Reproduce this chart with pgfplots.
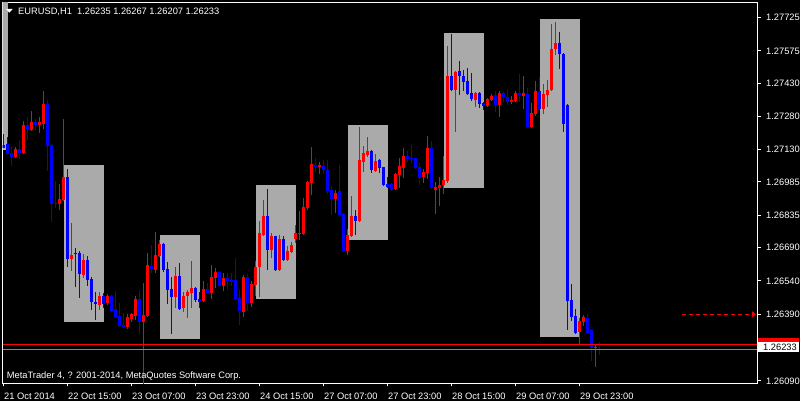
\documentclass[border=0pt]{standalone}
\usepackage{fontspec}
\setmainfont{Liberation Sans}
\usepackage{pgfplots}
\pgfplotsset{compat=1.18}
\usepackage{pgfplotstable}
\usetikzlibrary{arrows.meta}

\definecolor{bullc}{RGB}{255,0,0}
\definecolor{bearc}{RGB}{0,0,255}
\definecolor{boxc}{RGB}{170,170,170}
\definecolor{bidc}{RGB}{119,136,153}

% EURUSD H1 bars, x = bar index (21 Oct 23:00 = 0)
\pgfplotstableread{
x o h l c
3 1.27096 1.27141 1.27091 1.27132
5 1.27114 1.27258 1.27112 1.27240
7 1.27217 1.27303 1.27215 1.27253
9 1.27240 1.27276 1.27204 1.27253
10 1.27244 1.27393 1.27222 1.27334
14 1.26884 1.26974 1.26857 1.26907
15 1.26902 1.27267 1.26898 1.27006
17 1.26637 1.26799 1.26583 1.26655
20 1.26565 1.26659 1.26551 1.26632
24 1.26430 1.26488 1.26407 1.26470
26 1.26439 1.26479 1.26430 1.26470
31 1.26331 1.26389 1.26322 1.26376
32 1.26367 1.26394 1.26353 1.26389
33 1.26380 1.26470 1.26362 1.26457
35 1.26353 1.26529 1.26040 1.26385
36 1.26380 1.26664 1.26376 1.26610
38 1.26587 1.26758 1.26574 1.26655
39 1.26650 1.26722 1.26646 1.26704
43 1.26466 1.26601 1.26416 1.26560
45 1.26416 1.26488 1.26398 1.26470
46 1.26470 1.26497 1.26371 1.26488
47 1.26484 1.26628 1.26416 1.26506
50 1.26448 1.26538 1.26443 1.26502
52 1.26484 1.26610 1.26457 1.26556
53 1.26551 1.26596 1.26506 1.26578
55 1.26515 1.26574 1.26493 1.26551
60 1.26398 1.26565 1.26376 1.26556
62 1.26439 1.26538 1.26421 1.26524
63 1.26520 1.26628 1.26470 1.26601
64 1.26601 1.26808 1.26466 1.26754
65 1.26745 1.26902 1.26743 1.26830
67 1.26677 1.26754 1.26641 1.26740
69 1.26587 1.26745 1.26585 1.26727
71 1.26632 1.26695 1.26630 1.26673
72 1.26668 1.26713 1.26666 1.26700
73 1.26727 1.26790 1.26709 1.26754
74 1.26749 1.26853 1.26722 1.26754
75 1.26749 1.26911 1.26745 1.26871
76 1.26866 1.26988 1.26857 1.26983
77 1.26979 1.27141 1.26925 1.27064
79 1.27051 1.27073 1.27019 1.27060
83 1.26907 1.26947 1.26844 1.26934
86 1.26673 1.26772 1.26655 1.26745
87 1.26740 1.26920 1.26736 1.26830
89 1.26808 1.27231 1.26806 1.27082
90 1.27073 1.27145 1.27028 1.27114
91 1.27105 1.27186 1.27096 1.27123
93 1.27033 1.27109 1.27031 1.27078
98 1.26952 1.27024 1.26947 1.27019
99 1.27015 1.27091 1.26956 1.27055
100 1.27046 1.27136 1.27001 1.27100
105 1.27006 1.27042 1.26979 1.27028
106 1.27024 1.27190 1.26997 1.27136
108 1.26947 1.26983 1.26839 1.26961
109 1.26956 1.27006 1.26875 1.26970
110 1.26970 1.27100 1.26929 1.26992
111 1.26988 1.27595 1.26979 1.27460
113 1.27397 1.27483 1.27208 1.27478
118 1.27352 1.27388 1.27321 1.27384
121 1.27325 1.27361 1.27321 1.27357
122 1.27352 1.27379 1.27350 1.27370
124 1.27330 1.27393 1.27276 1.27384
127 1.27343 1.27370 1.27334 1.27352
128 1.27348 1.27393 1.27346 1.27384
130 1.27370 1.27460 1.27312 1.27384
132 1.27231 1.27339 1.27229 1.27294
133 1.27289 1.27438 1.27280 1.27393
135 1.27312 1.27424 1.27289 1.27379
136 1.27375 1.27442 1.27321 1.27397
137 1.27397 1.27694 1.27395 1.27582
138 1.27582 1.27703 1.27555 1.27609
144 1.26308 1.26371 1.26254 1.26358
145 1.26353 1.26385 1.26335 1.26376
148 1.26236 1.26250 1.26151 1.26241
}\bulls

\pgfplotstableread{
x o h l c
0 1.27150 1.27199 1.27136 1.27140
1 1.27154 1.27186 1.27105 1.27109
2 1.27114 1.27145 1.27055 1.27096
4 1.27132 1.27172 1.27087 1.27114
6 1.27240 1.27276 1.27172 1.27217
8 1.27253 1.27267 1.27217 1.27240
11 1.27334 1.27352 1.27033 1.27145
12 1.27150 1.27154 1.26803 1.26884
13 1.26889 1.26988 1.26866 1.26884
16 1.27006 1.27042 1.26601 1.26637
18 1.26664 1.26686 1.26511 1.26659
19 1.26664 1.26673 1.26461 1.26569
21 1.26632 1.26650 1.26515 1.26542
22 1.26547 1.26556 1.26407 1.26443
23 1.26443 1.26488 1.26362 1.26434
25 1.26470 1.26484 1.26416 1.26434
27 1.26470 1.26475 1.26398 1.26403
28 1.26412 1.26493 1.26371 1.26376
29 1.26380 1.26439 1.26331 1.26335
30 1.26340 1.26394 1.26326 1.26331
34 1.26457 1.26497 1.26299 1.26353
37 1.26605 1.26700 1.26574 1.26592
40 1.26704 1.26709 1.26578 1.26587
41 1.26592 1.26623 1.26434 1.26497
42 1.26502 1.26556 1.26299 1.26466
44 1.26560 1.26619 1.26410 1.26412
48 1.26506 1.26511 1.26443 1.26452
49 1.26457 1.26488 1.26416 1.26443
51 1.26502 1.26529 1.26479 1.26484
54 1.26578 1.26583 1.26511 1.26515
56 1.26551 1.26574 1.26497 1.26538
57 1.26542 1.26574 1.26515 1.26533
58 1.26542 1.26641 1.26452 1.26457
59 1.26461 1.26497 1.26340 1.26403
61 1.26556 1.26569 1.26403 1.26439
66 1.26830 1.26952 1.26587 1.26677
68 1.26740 1.26742 1.26585 1.26587
70 1.26727 1.26740 1.26628 1.26632
78 1.27060 1.27091 1.27028 1.27051
80 1.27055 1.27082 1.27019 1.27037
81 1.27037 1.27082 1.26929 1.26943
82 1.26947 1.26965 1.26835 1.26907
84 1.26943 1.27060 1.26826 1.26835
85 1.26839 1.26844 1.26670 1.26673
88 1.26830 1.26857 1.26745 1.26808
92 1.27123 1.27127 1.27024 1.27037
94 1.27082 1.27087 1.27024 1.27046
95 1.27051 1.27053 1.26968 1.26970
96 1.26974 1.27006 1.26959 1.26961
97 1.26974 1.26979 1.26945 1.26947
101 1.27100 1.27123 1.27073 1.27087
102 1.27091 1.27150 1.27069 1.27087
103 1.27091 1.27093 1.27044 1.27046
104 1.27051 1.27069 1.26970 1.27001
107 1.27136 1.27168 1.26954 1.26956
112 1.27460 1.27649 1.27393 1.27397
114 1.27483 1.27528 1.27375 1.27460
115 1.27460 1.27487 1.27393 1.27433
116 1.27438 1.27496 1.27375 1.27379
117 1.27384 1.27474 1.27348 1.27357
119 1.27384 1.27388 1.27316 1.27334
120 1.27339 1.27343 1.27307 1.27325
123 1.27375 1.27393 1.27298 1.27330
125 1.27384 1.27388 1.27343 1.27366
126 1.27366 1.27402 1.27330 1.27343
129 1.27384 1.27469 1.27343 1.27375
131 1.27379 1.27406 1.27226 1.27231
134 1.27393 1.27456 1.27310 1.27312
139 1.27609 1.27658 1.27492 1.27559
140 1.27562 1.27564 1.27208 1.27244
141 1.27332 1.27334 1.26317 1.26448
142 1.26452 1.26524 1.26358 1.26376
143 1.26380 1.26412 1.26299 1.26304
146 1.26371 1.26389 1.26299 1.26304
147 1.26320 1.26322 1.26178 1.26236
149 1.26235 1.26267 1.26207 1.26233
}\bears

\pgfplotsset{
  candle/.style n args={2}{draw=none, mark=none, forget plot,
    error bars/.cd, y dir=minus, y explicit, error mark=none,
    error bar style={draw=#1, line width=#2}},
}

\begin{document}
\begin{tikzpicture}[font=\fontsize{9.3}{11}\selectfont]
\fill[black] (-2.5pt,-17.5pt) rectangle (797.5pt,383.5pt);
\path[use as bounding box] (-2.5pt,-17.5pt) rectangle (797.5pt,383.5pt);
\begin{axis}[
  scale only axis, width=755pt, height=381pt,
  xmin=-0.25, xmax=188.5,
  ymin=1.26078, ymax=1.27793,
  clip mode=individual,
  axis line style={white, line width=1pt},
  tick style={white, line width=1pt},
  tick align=outside, major tick length=3pt,
  xtick pos=left, ytick pos=right, yticklabel pos=right,
  xtick={0,16,...,144},
  xticklabels={21 Oct 2014, 22 Oct 15:00, 23 Oct 07:00, 23 Oct 23:00, 24 Oct 15:00,
    27 Oct 07:00, 27 Oct 23:00, 28 Oct 15:00, 29 Oct 07:00, 29 Oct 23:00},
  ytick={1.26090,1.26390,1.26540,1.26690,1.26835,1.26985,1.27130,1.27280,1.27430,1.27575,1.27725},
  yticklabels={1.26090,1.26390,1.26540,1.26690,1.26835,1.26985,1.27130,1.27280,1.27430,1.27575,1.27725},
  ticklabel style={text=white, font=\fontsize{9.3}{11}\selectfont},
  xticklabel style={anchor=north west, inner sep=0pt, xshift=0.5pt, yshift=-6pt},
  yticklabel style={anchor=west, inner sep=0pt, xshift=5.5pt},
]
% rectangles
\addplot[fill=boxc, draw=none] coordinates {(-9,1.27900) (1,1.27900) (1,1.27127) (-9,1.27127)};
\addplot[fill=boxc, draw=none] coordinates {(15,1.27060) (25,1.27060) (25,1.26353) (15,1.26353)};
\addplot[fill=boxc, draw=none] coordinates {(39,1.26745) (49,1.26745) (49,1.26279) (39,1.26279)};
\addplot[fill=boxc, draw=none] coordinates {(63,1.26970) (73,1.26970) (73,1.26457) (63,1.26457)};
\addplot[fill=boxc, draw=none] coordinates {(86,1.27240) (96,1.27240) (96,1.26722) (86,1.26722)};
\addplot[fill=boxc, draw=none] coordinates {(110,1.27654) (120,1.27654) (120,1.26956) (110,1.26956)};
\addplot[fill=boxc, draw=none] coordinates {(134,1.27717) (144,1.27717) (144,1.26286) (134,1.26286)};

% wicks
\addplot[candle={bullc}{1pt}]
  table[x=x, y=h, y error minus expr=\thisrow{h}-\thisrow{l}] {\bulls};
\addplot[candle={bearc}{1pt}]
  table[x=x, y=h, y error minus expr=\thisrow{h}-\thisrow{l}] {\bears};
% bodies
\addplot[candle={bullc}{3pt}]
  table[x=x, y=c, y error minus expr=\thisrow{c}-\thisrow{o}] {\bulls};
\addplot[candle={bearc}{3pt}]
  table[x=x, y=o, y error minus expr=\thisrow{o}-\thisrow{c}] {\bears};

% ask / bid lines and level arrow
\addplot[bullc, line width=1pt] coordinates {(-0.25,1.26252) (188.5,1.26252)};
\addplot[bidc, line width=1pt] coordinates {(-0.25,1.26233) (188.5,1.26233)};
\addplot[bullc, line width=1pt, dash pattern=on 4pt off 3pt, -{Triangle[length=4pt,width=6pt]}]
  coordinates {(169.6,1.26390) (188.1,1.26390)};
\end{axis}

% header and footer text
\fill[white] (3.5pt,374.5pt) -- (10.2pt,374.5pt) -- (6.8pt,370.8pt) -- cycle;
\node[anchor=base west, inner sep=0pt, text=white] at (15.5pt,369.2pt)
  {EURUSD,H1\ \ 1.26235 1.26267 1.26207 1.26233};
\node[anchor=base west, inner sep=0pt, text=white] at (4.2pt,4.5pt)
  {MetaTrader 4, ? 2001-2014, MetaQuotes Software Corp.};

% price labels at right (ask label mostly hidden under the bid label)
\fill[bullc] (755.5pt,33.5pt) rectangle (796.8pt,45.8pt);
\fill[white] (754.8pt,31.2pt) rectangle (796.8pt,41.8pt);
\node[anchor=west, inner sep=0pt, text=black] at (760.5pt,36.5pt) {1.26233};
\end{tikzpicture}
\end{document}
